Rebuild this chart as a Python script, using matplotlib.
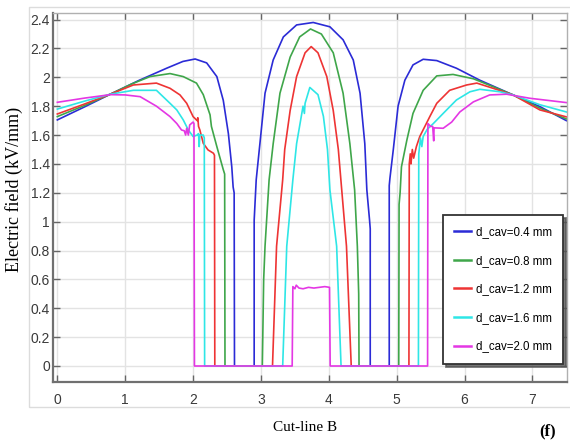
"""Electric field along cut-line B for several cavity diameters (panel f)."""

import matplotlib
matplotlib.use("Agg")
import matplotlib.pyplot as plt
from matplotlib.patches import Rectangle
from matplotlib.ticker import FuncFormatter

SANS = ["Liberation Sans Narrow", "Liberation Sans", "DejaVu Sans"]
SERIF = ["Liberation Serif", "DejaVu Serif"]

labels = ["d_cav=0.4 mm", "d_cav=0.8 mm", "d_cav=1.2 mm", "d_cav=1.6 mm", "d_cav=2.0 mm"]
colors = ["#2b2bd6", "#3fa64a", "#ee3434", "#2ee6e6", "#e437e4"]

# d_cav = 0.4 mm
x_04 = [0.0, 0.4, 0.78, 1.2, 1.61, 1.85, 2.03, 2.2, 2.35, 2.445, 2.52, 2.57, 2.59, 2.605,
        2.61, 2.90, 2.90, 2.93, 2.985, 3.06, 3.18, 3.33, 3.525, 3.77, 4.016, 4.21, 4.36,
        4.46, 4.53, 4.56, 4.60, 4.61, 4.61, 4.89, 4.89, 4.90, 4.95, 5.02, 5.12, 5.24, 5.39,
        5.59, 5.88, 6.225, 6.715, 7.11, 7.5]
E_04 = [1.705, 1.795, 1.883, 1.978, 2.063, 2.11, 2.127, 2.10, 2.005, 1.84, 1.61, 1.38, 1.24, 1.20,
        0.0, 0.0, 1.01, 1.29, 1.543, 1.89, 2.12, 2.28, 2.363, 2.38, 2.35, 2.26, 2.12,
        1.89, 1.54, 1.22, 1.01, 0.95, 0.0, 0.0, 1.25, 1.30, 1.50, 1.80, 1.98, 2.086, 2.125,
        2.116, 2.063, 1.98, 1.878, 1.797, 1.70]

# d_cav = 0.8 mm
x_08 = [0.0, 0.4, 0.78, 1.1, 1.365, 1.66, 1.855, 2.05, 2.15, 2.25, 2.27, 2.35, 2.445, 2.465,
        2.47, 3.02, 3.04, 3.06, 3.12, 3.18, 3.28, 3.43, 3.57, 3.73, 3.89, 4.065, 4.21, 4.31,
        4.38, 4.42, 4.44, 4.445, 5.03, 5.035, 5.05, 5.07, 5.15, 5.24, 5.39, 5.59, 5.83, 6.13,
        6.42, 6.715, 7.11, 7.5]
E_08 = [1.728, 1.805, 1.883, 1.955, 2.005, 2.026, 2.005, 1.96, 1.88, 1.74, 1.66, 1.52, 1.36, 1.33,
        0.0, 0.0, 0.60, 0.83, 1.29, 1.54, 1.89, 2.14, 2.28, 2.335, 2.30, 2.17, 1.89, 1.54,
        1.22, 0.83, 0.50, 0.0, 0.0, 1.12, 1.20, 1.38, 1.566, 1.75, 1.91, 2.01, 2.02, 1.99,
        1.935, 1.878, 1.786, 1.712]

# d_cav = 1.2 mm
x_12 = [0.0, 0.4, 0.78, 1.12, 1.46, 1.66, 1.807, 1.906, 2.0, 2.06, 2.07, 2.08, 2.10, 2.15,
        2.22, 2.30, 2.315, 2.32, 3.17, 3.23, 3.32, 3.35, 3.43, 3.525, 3.65, 3.74, 3.84, 3.97,
        4.065, 4.14, 4.19, 4.26, 4.33, 5.18, 5.185, 5.20, 5.21, 5.23, 5.25, 5.29, 5.34, 5.415,
        5.49, 5.59, 5.78, 6.03, 6.18, 6.42, 6.715, 7.11, 7.5]
E_12 = [1.746, 1.815, 1.883, 1.947, 1.96, 1.924, 1.878, 1.82, 1.728, 1.70, 1.72, 1.66, 1.635, 1.543,
        1.497, 1.474, 1.46, 0.0, 0.0, 0.83, 1.29, 1.50, 1.77, 2.005, 2.17, 2.213, 2.17, 2.005,
        1.77, 1.50, 1.22, 0.83, 0.0, 0.0, 1.40, 1.47, 1.40, 1.50, 1.44, 1.52, 1.59, 1.66,
        1.73, 1.82, 1.91, 1.947, 1.96, 1.924, 1.878, 1.774, 1.726]

# d_cav = 1.6 mm
x_16 = [0.0, 0.4, 0.78, 1.12, 1.46, 1.66, 1.76, 1.855, 1.93, 2.0, 2.06, 2.08, 2.09, 2.10,
        2.15, 2.165, 2.17, 3.32, 3.38, 3.47, 3.525, 3.62, 3.64, 3.65, 3.72, 3.84, 3.92, 3.98,
        4.016, 4.115, 4.18, 5.32, 5.325, 5.35, 5.37, 5.39, 5.45, 5.54, 5.685, 5.88, 6.08,
        6.225, 6.52, 6.715, 7.11, 7.5]
E_16 = [1.78, 1.835, 1.883, 1.91, 1.91, 1.82, 1.774, 1.705, 1.635, 1.59, 1.60, 1.61, 1.52, 1.60,
        1.60, 1.58, 0.0, 0.0, 0.83, 1.29, 1.54, 1.80, 1.75, 1.82, 1.93, 1.88, 1.73, 1.50,
        1.22, 0.83, 0.0, 0.0, 1.47, 1.58, 1.52, 1.59, 1.64, 1.68, 1.75, 1.843, 1.90,
        1.917, 1.90, 1.878, 1.81, 1.76]

# d_cav = 2.0 mm
x_20 = [0.0, 0.4, 0.78, 1.0, 1.22, 1.46, 1.66, 1.76, 1.83, 1.87, 1.89, 1.906, 1.93, 1.95, 2.0,
        2.013, 2.02, 3.46, 3.47, 3.50, 3.52, 3.56, 3.62, 3.70, 3.78, 3.86, 3.94, 4.01, 4.02,
        5.455, 5.46, 5.50, 5.53, 5.545, 5.55, 5.685, 5.81, 5.93, 6.13, 6.37, 6.62, 6.96, 7.5]
E_20 = [1.827, 1.856, 1.88, 1.878, 1.866, 1.80, 1.728, 1.68, 1.635, 1.63, 1.60, 1.647, 1.60, 1.67, 1.69,
        1.68, 0.0, 0.0, 0.55, 0.535, 0.56, 0.54, 0.535, 0.545, 0.54, 0.545, 0.55, 0.545, 0.0,
        0.0, 1.68, 1.66, 1.66, 1.56, 1.65, 1.647, 1.69, 1.76, 1.83, 1.878, 1.883, 1.855, 1.825]

series = [(x_04, E_04), (x_08, E_08), (x_12, E_12), (x_16, E_16), (x_20, E_20)]

x_ticks = list(range(0, 8))
y_ticks = [i * 0.2 for i in range(13)]


def fmt(v, _pos):
    s = f"{v:.1f}"
    return s[:-2] if s.endswith(".0") else s


fig = plt.figure(figsize=(5.7, 4.42), dpi=100)

# thin frame around the exported plot area
fig.patches.append(Rectangle((0.051, 0.079), 1.0, 0.905, transform=fig.transFigure,
                             fill=False, edgecolor="#dcdcdc", linewidth=1.0))

ax = fig.add_axes([0.0925, 0.1357, 0.902, 0.835])
for (xs, ys), c, lab in zip(series, colors, labels):
    ax.plot(xs, ys, color=c, linewidth=1.2, label=lab)

ax.set_xlim(-0.068, 7.507)
ax.set_ylim(-0.111, 2.446)
ax.set_xticks(x_ticks)
ax.set_yticks(y_ticks)
ax.xaxis.set_major_formatter(FuncFormatter(fmt))
ax.yaxis.set_major_formatter(FuncFormatter(fmt))
ax.grid(True, color="#e3e3e3", linewidth=1.0)
ax.set_axisbelow(True)

ax.tick_params(direction="in", top=True, right=True, length=5, width=1.0, color="#666666",
               labelsize=10, labelcolor="#3a3a3a")
ax.tick_params(axis="x", pad=8)
ax.tick_params(axis="y", pad=2)
for t in ax.get_xticklabels() + ax.get_yticklabels():
    t.set_family(SANS)

for side in ("left", "bottom"):
    ax.spines[side].set_color("#707070")
    ax.spines[side].set_linewidth(1.6)
for side in ("top", "right"):
    ax.spines[side].set_color("#b0b0b0")
    ax.spines[side].set_linewidth(1.0)

leg = ax.legend(loc="upper left", bbox_to_anchor=(0.777, 0.5136), bbox_transform=fig.transFigure,
                prop={"family": SANS, "size": 8.3}, frameon=True, fancybox=False,
                shadow={"color": "#555555", "alpha": 0.8}, handlelength=1.5, handletextpad=0.4,
                labelspacing=1.44, borderpad=0.97, borderaxespad=0)
leg.get_frame().set_edgecolor("#333333")
leg.get_frame().set_linewidth(1.3)
leg.get_frame().set_alpha(1.0)
for line in leg.get_lines():
    line.set_linewidth(1.8)

fig.text(0.024, 0.572, "Electric field (kV/mm)", rotation=90, ha="center", va="center",
         family=SERIF, size=13)
fig.text(0.535, 0.032, "Cut-line B", ha="center", va="center", family=SERIF, size=11)
fig.text(0.961, 0.025, "(f)", ha="center", va="center", family=SERIF, size=12, weight="bold")

fig.savefig("out.png", dpi=100)
